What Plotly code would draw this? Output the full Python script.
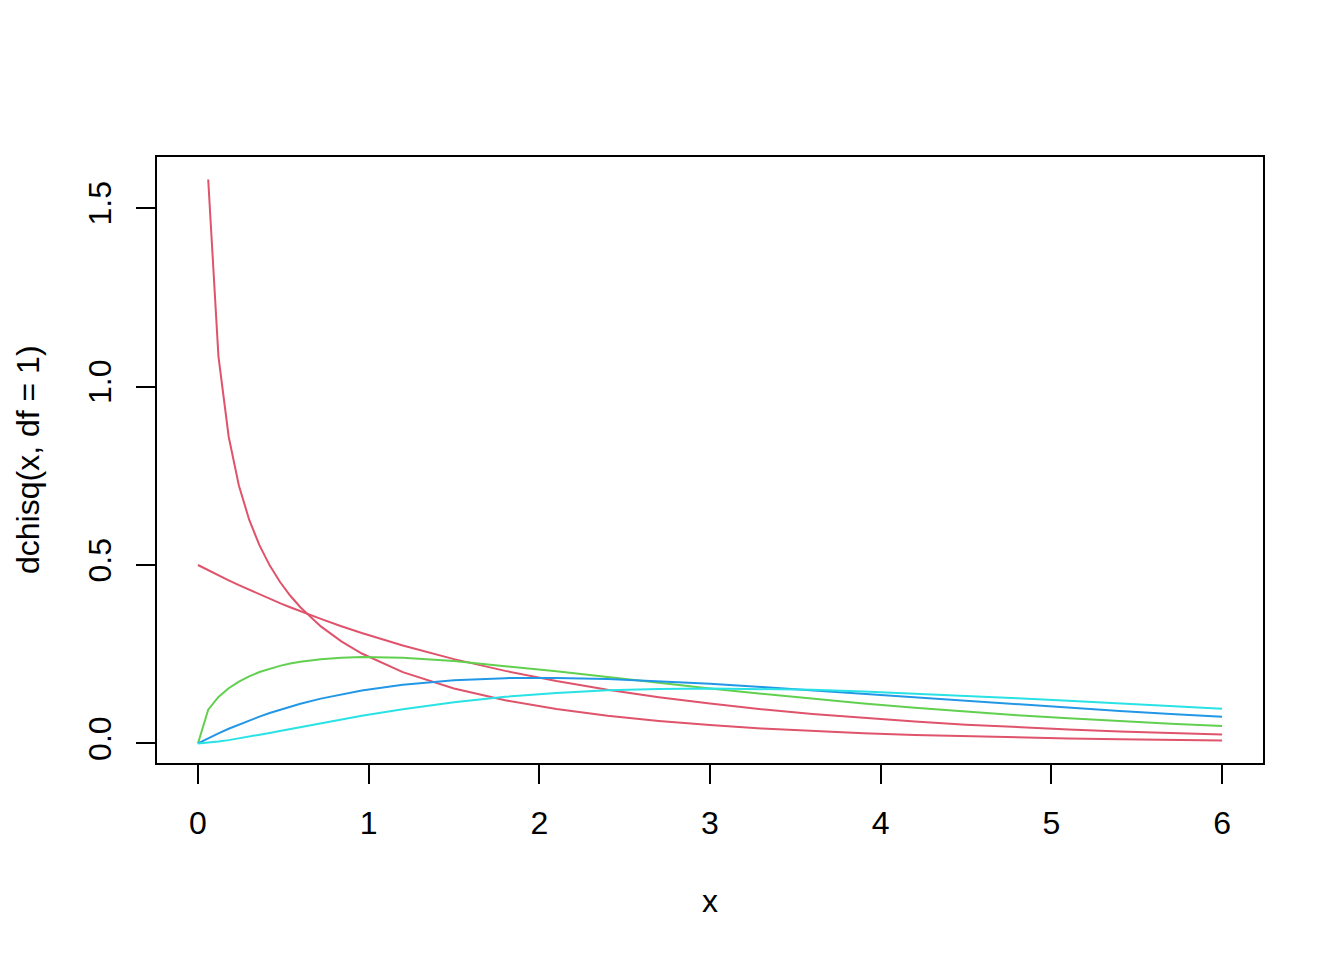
import plotly.graph_objects as go

x_vals = [0, 0.06, 0.12, 0.18, 0.24, 0.3, 0.36, 0.42, 0.48, 0.54, 0.6, 0.72, 0.84, 0.96,
          1.2, 1.5, 1.8, 2.1, 2.4, 2.7, 3.0, 3.3, 3.6, 3.9, 4.2, 4.5, 4.8, 5.1, 5.4, 5.7, 6.0]

df1 = [None, 1.580, 1.0847, 0.8593, 0.7222, 0.6269, 0.5554, 0.4990, 0.4530, 0.4145, 0.3815,
       0.3280, 0.2860, 0.2520, 0.1999, 0.1539, 0.1209, 0.0963, 0.0776, 0.0629, 0.0514,
       0.0422, 0.0348, 0.0287, 0.0238, 0.0198, 0.0165, 0.0138, 0.0115, 0.00966, 0.0081]
df2 = [0.5, 0.4852, 0.4709, 0.4570, 0.4435, 0.4304, 0.4177, 0.4053, 0.3933, 0.3817, 0.3704,
       0.3489, 0.3285, 0.3094, 0.2744, 0.2362, 0.2033, 0.1750, 0.1506, 0.1296, 0.1116,
       0.0960, 0.0827, 0.0712, 0.0612, 0.0527, 0.0454, 0.0391, 0.0336, 0.0289, 0.0249]
df3 = [0, 0.0948, 0.1302, 0.1547, 0.1733, 0.1881, 0.2000, 0.2096, 0.2174, 0.2238, 0.2289,
       0.2362, 0.2402, 0.2419, 0.2399, 0.2309, 0.2176, 0.2022, 0.1862, 0.1698, 0.1542,
       0.1393, 0.1253, 0.1119, 0.1000, 0.0891, 0.0792, 0.0704, 0.0621, 0.0551, 0.0486]
df4 = [0, 0.01456, 0.02825, 0.04113, 0.05321, 0.06455, 0.07518, 0.08511, 0.09439, 0.1031, 0.1111,
       0.1256, 0.1380, 0.1485, 0.1646, 0.1772, 0.1830, 0.1837, 0.1807, 0.1750, 0.1673,
       0.1584, 0.1488, 0.1387, 0.1286, 0.1186, 0.1088, 0.0996, 0.0907, 0.0824, 0.0747]
df5 = [0, 0.00190, 0.00521, 0.00928, 0.01387, 0.01881, 0.02399, 0.02934, 0.03479, 0.04029, 0.04578,
       0.05668, 0.06727, 0.07741, 0.09595, 0.1154, 0.1306, 0.1416, 0.1490, 0.1528, 0.1542,
       0.1532, 0.1503, 0.1455, 0.1399, 0.1337, 0.1267, 0.1196, 0.1118, 0.1046, 0.0972]

series = [("df=1", df1, "#DF536B"), ("df=2", df2, "#DF536B"), ("df=3", df3, "#61D04F"),
          ("df=4", df4, "#2297E6"), ("df=5", df5, "#28E2E5")]

x_ticks = [0, 1, 2, 3, 4, 5, 6]
y_ticks = [0.0, 0.5, 1.0, 1.5]
y_tick_text = ["0.0", "0.5", "1.0", "1.5"]

fig = go.Figure()
for name, ys, col in series:
    fig.add_trace(go.Scatter(x=x_vals, y=ys, mode="lines", name=name,
                             line=dict(color=col, width=2), connectgaps=False))

font = "Liberation Sans, Arial, sans-serif"
fig.update_layout(
    width=1336, height=952,
    margin=dict(l=149, r=81, t=149, b=197),
    paper_bgcolor="white", plot_bgcolor="white",
    showlegend=False,
    font=dict(family=font, size=32, color="black"),
    xaxis=dict(range=[-0.24, 6.24], tickvals=x_ticks, ticks="outside", ticklen=19,
               tickwidth=2, tickcolor="black", showline=True, mirror=True,
               linecolor="black", linewidth=2, showgrid=False, zeroline=False,
               tickfont=dict(size=32), ticklabelstandoff=12),
    yaxis=dict(range=[-0.0548, 1.6431], tickvals=y_ticks, ticktext=y_tick_text,
               ticks="outside", ticklen=19, tickwidth=2, tickcolor="black",
               showline=True, mirror=True, linecolor="black", linewidth=2,
               showgrid=False, zeroline=False, tickangle=-90,
               tickfont=dict(size=32), ticklabelstandoff=12),
    annotations=[
        dict(text="x", xref="paper", yref="paper", x=0.5, y=0, yshift=-138,
             showarrow=False, font=dict(size=32), xanchor="center", yanchor="middle"),
        dict(text="dchisq(x, df = 1)", xref="paper", yref="paper", x=0, y=0.5,
             xshift=-129, showarrow=False, textangle=-90, font=dict(size=32),
             xanchor="center", yanchor="middle"),
    ],
)

fig.write_html("out.html")
